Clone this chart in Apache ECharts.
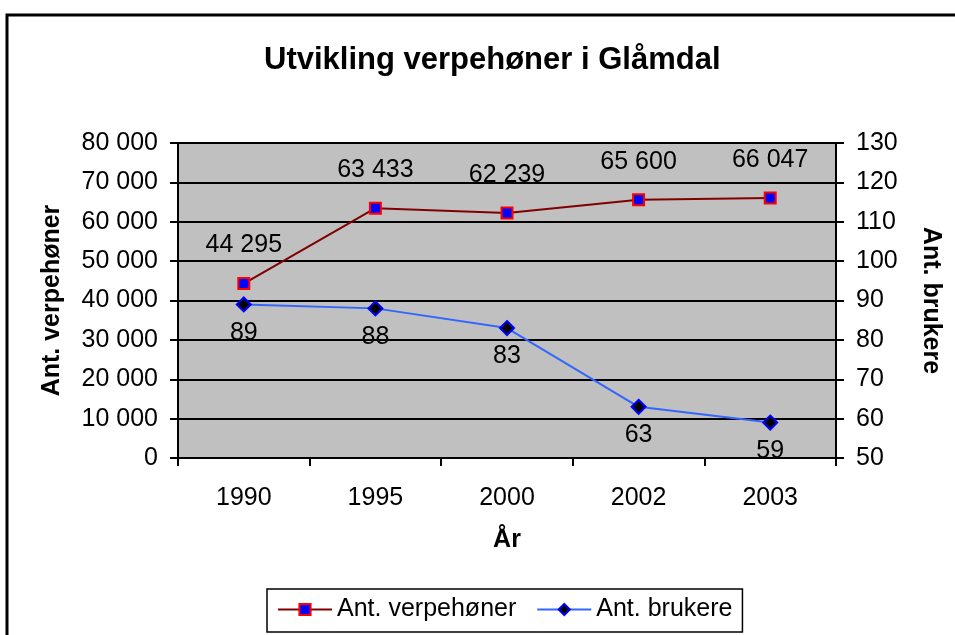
<!DOCTYPE html>
<html>
<head>
<meta charset="utf-8">
<script src="https://cdn.jsdelivr.net/npm/echarts@6/dist/echarts.min.js"></script>
<style>
  html, body { margin: 0; padding: 0; background: #fff; }
  #chart { width: 955px; height: 635px; }
</style>
</head>
<body>
<div id="chart"></div>
<script>
// data
const years = ['1990', '1995', '2000', '2002', '2003'];
const verpehoner = [44295, 63433, 62239, 65600, 66047];
const brukere = [89, 88, 83, 63, 59];

const font = 'Liberation Sans, Arial, sans-serif';

// 44 295 style number
function spaced(v) {
  return String(v).replace(/\B(?=(\d{3})+(?!\d))/g, ' ');
}

const chart = echarts.init(document.getElementById('chart'));
chart.setOption({
  animation: false,
  textStyle: { fontFamily: font },
  title: {
    text: 'Utvikling verpehøner i Glåmdal',
    left: 259,
    top: 40,
    textStyle: { fontSize: 31, fontWeight: 'bold', color: '#000', fontFamily: font }
  },
  graphic: [
    {
      type: 'rect',
      shape: { x: 7, y: 15, width: 1000, height: 700 },
      style: { fill: null, stroke: '#000', lineWidth: 3 },
      silent: true
    }
  ],
  grid: {
    left: 178,
    right: 119,
    top: 143,
    height: 315,
    show: true,
    backgroundColor: '#c0c0c0',
    borderWidth: 0
  },
  legend: {
    left: 267,
    top: 589,
    padding: [8, 10, 10, 10],
    borderColor: '#000',
    borderWidth: 1.5,
    itemWidth: 54,
    itemHeight: 14,
    itemGap: 20,
    textStyle: { fontSize: 25, color: '#000', fontFamily: font },
    data: ['Ant. verpehøner', 'Ant. brukere']
  },
  xAxis: {
    type: 'category',
    data: years,
    name: 'År',
    nameLocation: 'middle',
    nameGap: 70,
    nameTextStyle: { fontSize: 25, fontWeight: 'bold', color: '#000' },
    axisLine: { lineStyle: { color: '#000', width: 2 } },
    axisTick: { show: true, inside: false, length: 8, lineStyle: { color: '#000', width: 2 } },
    axisLabel: { fontSize: 25, color: '#000', margin: 28 }
  },
  yAxis: [
    {
      type: 'value',
      min: 0,
      max: 80000,
      interval: 10000,
      name: 'Ant. verpehøner',
      nameLocation: 'middle',
      nameGap: 113,
      nameRotate: 90,
      nameTextStyle: { fontSize: 25, fontWeight: 'bold', color: '#000' },
      axisLine: { show: true, lineStyle: { color: '#000', width: 2 } },
      axisTick: { show: true, length: 8, lineStyle: { color: '#000', width: 2 } },
      axisLabel: { fontSize: 25, color: '#000', margin: 20, formatter: spaced },
      splitLine: { show: true, lineStyle: { color: '#000', width: 2 } }
    },
    {
      type: 'value',
      min: 50,
      max: 130,
      interval: 10,
      position: 'right',
      name: 'Ant. brukere',
      nameLocation: 'middle',
      nameGap: 82,
      nameRotate: -90,
      nameTextStyle: { fontSize: 25, fontWeight: 'bold', color: '#000' },
      axisLine: { show: true, lineStyle: { color: '#000', width: 2 } },
      axisTick: { show: true, length: 8, lineStyle: { color: '#000', width: 2 } },
      axisLabel: { fontSize: 25, color: '#000', margin: 20 },
      splitLine: { show: false }
    }
  ],
  series: [
    {
      name: 'Ant. verpehøner',
      type: 'line',
      yAxisIndex: 0,
      data: verpehoner,
      symbol: 'rect',
      symbolSize: 11,
      itemStyle: { color: '#0000ff', borderColor: '#ff0000', borderWidth: 2 },
      lineStyle: { color: '#800000', width: 2 },
      label: {
        show: true,
        position: 'top',
        distance: 19,
        fontSize: 25,
        color: '#000',
        formatter: p => spaced(p.value)
      }
    },
    {
      name: 'Ant. brukere',
      type: 'line',
      yAxisIndex: 1,
      data: brukere,
      symbol: 'diamond',
      symbolSize: 14,
      itemStyle: { color: '#000', borderColor: '#0000ff', borderWidth: 2 },
      lineStyle: { color: '#3366ff', width: 2 },
      label: {
        show: true,
        position: 'bottom',
        distance: 8,
        fontSize: 25,
        color: '#000'
      }
    }
  ]
});
</script>
</body>
</html>
